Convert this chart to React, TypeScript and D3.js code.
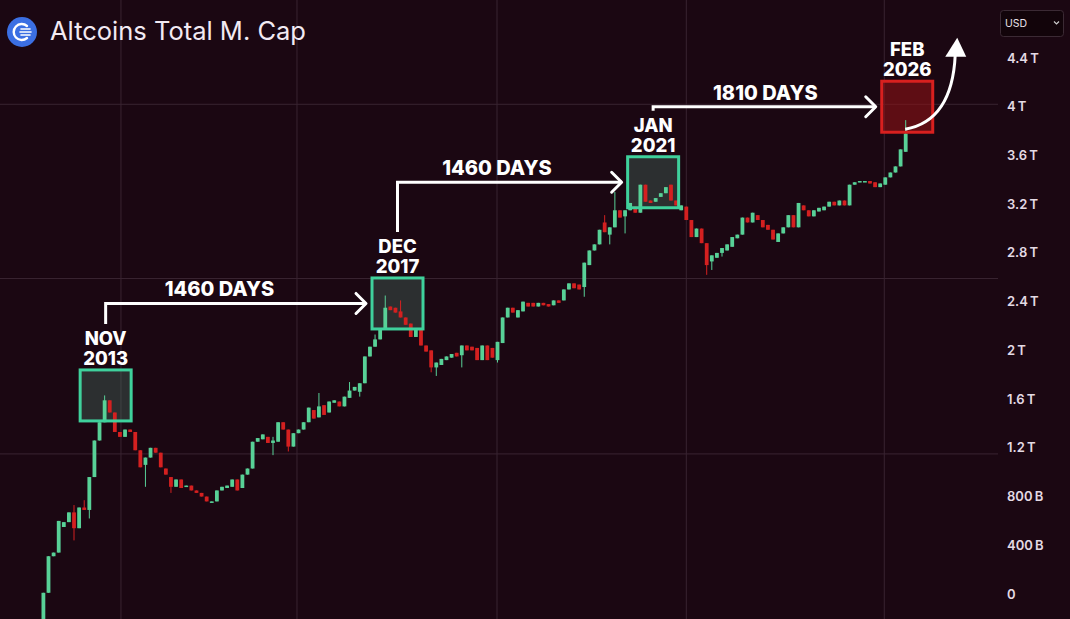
import React from 'react';
import * as d3 from 'd3';

const W = 1070;
const H = 619;

// Altcoins total market cap candles, values in trillions USD
const opens = [
  -0.25, 0.01, 0.31, 0.34, 0.55, 0.59, 0.67, 0.54, 0.71, 0.69,
  0.96, 1.26, 1.41, 1.59, 1.49, 1.33, 1.29, 1.35, 1.33, 1.18,
  1.06, 1.12, 1.20, 1.16, 1.03, 0.96, 0.88, 0.94, 0.88, 0.89,
  0.85, 0.83, 0.80, 0.75, 0.76, 0.85, 0.87, 0.88, 0.94, 0.87,
  0.98, 1.03, 1.25, 1.27, 1.29, 1.24, 1.25, 1.41, 1.35, 1.21,
  1.32, 1.35, 1.41, 1.51, 1.45, 1.55, 1.49, 1.57, 1.58, 1.54,
  1.61, 1.67, 1.66, 1.73, 1.95, 2.03, 2.09, 2.17, 2.36, 2.35,
  2.32, 2.27, 2.22, 2.11, 2.17, 2.04, 2.00, 1.86, 1.88, 1.92,
  1.94, 1.98, 1.96, 2.04, 2.03, 2.02, 1.92, 2.04, 2.02, 1.92,
  2.06, 2.27, 2.35, 2.27, 2.32, 2.39, 2.39, 2.36, 2.39, 2.38,
  2.37, 2.41, 2.41, 2.50, 2.55, 2.54, 2.52, 2.70, 2.82, 2.87,
  3.05, 2.95, 3.01, 3.15, 3.10, 3.15, 3.18, 3.13, 3.36, 3.23,
  3.22, 3.26, 3.29, 3.36, 3.23, 3.15, 3.18, 3.07, 2.93, 3.00,
  2.88, 2.73, 2.76, 2.80, 2.82, 2.85, 2.92, 2.95, 3.09, 3.05,
  3.11, 3.07, 3.03, 2.99, 2.89, 2.96, 3.01, 3.11, 3.01, 3.19,
  3.15, 3.10, 3.14, 3.15, 3.18, 3.22, 3.19, 3.23, 3.19, 3.36,
  3.38, 3.39, 3.39, 3.38, 3.34, 3.36, 3.42, 3.46, 3.51, 3.63,
];

const closes = [
  0.01, 0.31, 0.34, 0.60, 0.59, 0.67, 0.54, 0.71, 0.69, 0.96,
  1.26, 1.41, 1.59, 1.49, 1.33, 1.29, 1.35, 1.33, 1.18, 1.04,
  1.12, 1.20, 1.16, 1.04, 0.98, 0.88, 0.94, 0.87, 0.89, 0.85,
  0.83, 0.80, 0.76, 0.76, 0.85, 0.88, 0.89, 0.94, 0.85, 0.98,
  1.03, 1.25, 1.28, 1.31, 1.24, 1.26, 1.41, 1.35, 1.21, 1.32,
  1.35, 1.41, 1.53, 1.44, 1.54, 1.47, 1.58, 1.59, 1.54, 1.62,
  1.67, 1.70, 1.73, 1.95, 2.03, 2.09, 2.18, 2.35, 2.33, 2.31,
  2.27, 2.21, 2.11, 2.18, 2.04, 1.99, 1.86, 1.90, 1.93, 1.95,
  1.97, 1.95, 2.04, 2.00, 2.00, 1.92, 2.04, 1.92, 1.94, 2.07,
  2.27, 2.35, 2.31, 2.33, 2.40, 2.36, 2.36, 2.39, 2.37, 2.36,
  2.41, 2.39, 2.50, 2.55, 2.51, 2.50, 2.72, 2.82, 2.87, 2.99,
  2.97, 3.01, 3.15, 3.09, 3.15, 3.21, 3.13, 3.36, 3.22, 3.21,
  3.25, 3.29, 3.34, 3.23, 3.19, 3.19, 3.07, 2.93, 3.00, 2.88,
  2.70, 2.78, 2.80, 2.84, 2.87, 2.93, 2.95, 3.09, 3.05, 3.13,
  3.07, 3.01, 2.99, 2.91, 2.96, 3.01, 3.11, 3.01, 3.21, 3.15,
  3.10, 3.15, 3.17, 3.18, 3.22, 3.19, 3.23, 3.19, 3.36, 3.38,
  3.39, 3.39, 3.37, 3.34, 3.37, 3.42, 3.46, 3.51, 3.65, 3.78,
];

// notable wicks: [candle index, value]
const wickHighs: [number, number][] = [
  [6, 0.73], [8, 0.77], [12, 1.63], [45, 1.29], [54, 1.65], [60, 1.74],
  [65, 2.13], [67, 2.45], [70, 2.41], [110, 3.11], [112, 3.30], [169, 3.89],
];
const wickLows: [number, number][] = [
  [6, 0.44], [9, 0.62], [20, 0.88], [25, 0.83], [45, 1.14], [48, 1.17],
  [62, 1.62], [76, 1.82], [77, 1.79], [82, 1.86], [89, 1.90], [106, 2.44],
  [111, 2.87], [114, 2.96], [130, 2.62], [131, 2.66], [133, 2.77],
];

const yTickValues = [0, 0.4, 0.8, 1.2, 1.6, 2, 2.4, 2.8, 3.2, 3.6, 4, 4.4];
const yTickLabels = ['0', '400\u202FB', '800\u202FB', '1.2\u202FT', '1.6\u202FT', '2\u202FT',
  '2.4\u202FT', '2.8\u202FT', '3.2\u202FT', '3.6\u202FT', '4\u202FT', '4.4\u202FT'];

// background grid (candle index / value positions)
const gridIdx = [15.2, 49.7, 88.9, 126, 164.8];
const gridVals = [1.15, 2.59, 4.02];

// cycle tops
const eventMonths = ['NOV', 'DEC', 'JAN', 'FEB'];
const eventYears = ['2013', '2017', '2021', '2026'];
const eventIdx = [12.2, 69.4, 119.5, 169.3];
const eventVals = [1.63, 2.385, 3.38, 4.0];
const dayCounts = ['1460 DAYS', '1460 DAYS', '1810 DAYS'];
const dayLabelIdx = [34.5, 88.9, 141.5];

const BG = '#1b0712';
const UP = '#58d197';
const DOWN = '#d42020';

export default function App() {
  const n = closes.length;
  const x = d3.scaleLinear().domain([0, n - 1]).range([43.4, 905.7]);
  const y = d3.scaleLinear().domain([0, 4.4]).range([594, 58]);
  const bodyW = 3.8;
  const hiMap = new Map(wickHighs);
  const loMap = new Map(wickLows);
  const box = 51;
  const font = 'Inter, "Open Sans", sans-serif';

  const candles = closes.map((c, i) => {
    const o = opens[i];
    const up = c >= o;
    const top = y(Math.max(o, c));
    const bot = y(Math.min(o, c));
    const hi = hiMap.has(i) ? y(hiMap.get(i)!) : top;
    const lo = loMap.has(i) ? y(loMap.get(i)!) : bot;
    const col = up ? UP : DOWN;
    const cx = x(i);
    return (
      <g key={i}>
        <line x1={cx} x2={cx} y1={hi} y2={lo} stroke={col} strokeWidth={1} />
        <rect x={cx - bodyW / 2} y={top} width={bodyW} height={Math.max(1.5, bot - top)} fill={col} />
      </g>
    );
  });

  const events = eventIdx.map((ei, k) => {
    const cx = x(ei);
    const cy = y(eventVals[k]);
    const last = k === eventIdx.length - 1;
    return { cx, cy, last };
  });

  return (
    <div style={{ position: 'fixed', left: 0, top: 0, width: W, height: H, background: BG }}>
      <svg width={W} height={H} style={{ display: 'block' }}>
        <defs>
          <clipPath id="plot">
            <rect x={0} y={0} width={998} height={H} />
          </clipPath>
        </defs>
        <rect width={W} height={H} fill={BG} />
        {gridIdx.map((g, i) => (
          <line key={'gx' + i} x1={x(g)} x2={x(g)} y1={0} y2={H} stroke="#392431" strokeWidth={1} />
        ))}
        {gridVals.map((g, i) => (
          <line key={'gy' + i} x1={0} x2={998} y1={y(g)} y2={y(g)} stroke="#392431" strokeWidth={1} />
        ))}

        {/* title */}
        <circle cx={22} cy={32} r={15} fill="#3b6fe3" />
        <path d="M27,26 A8,8 0 1 0 27,38" fill="none" stroke="#fff" strokeWidth={2.4} strokeLinecap="round" />
        <line x1={21} x2={30} y1={29} y2={29} stroke="#fff" strokeWidth={1.6} strokeLinecap="round" />
        <line x1={20} x2={31} y1={32} y2={32} stroke="#fff" strokeWidth={1.6} strokeLinecap="round" />
        <line x1={21} x2={30} y1={35} y2={35} stroke="#fff" strokeWidth={1.6} strokeLinecap="round" />
        <text x={50} y={40} fontFamily={font} fontSize={25.5} fill="#f2eaf2">Altcoins Total M. Cap</text>

        {/* USD selector */}
        <rect x={1000.5} y={10.5} width={63} height={26} rx={3} fill="#12040a" stroke="#3b2a34" />
        <text x={1005} y={27} fontFamily={font} fontSize={10.5} fill="#e8e0e8">USD</text>
        <path d="M1054,21.5 l2.5,2.5 l2.5,-2.5" fill="none" stroke="#ccc" strokeWidth={1.2} />

        {/* y axis labels */}
        {yTickValues.map((v, i) => (
          <text key={'yt' + i} x={1007} y={y(v)} dy="0.35em" fontFamily={font} fontSize={13} fontWeight={600} fill="#e4dae4">
            {yTickLabels[i]}
          </text>
        ))}

        {/* event boxes (behind candles) */}
        {events.map((e, k) => (
          <rect key={'bx' + k} x={e.cx - box / 2} y={e.cy - box / 2} width={box} height={box}
            fill={e.last ? 'rgba(150,18,22,0.55)' : 'rgba(78,130,110,0.33)'} />
        ))}

        <g clipPath="url(#plot)">{candles}</g>

        {events.map((e, k) => (
          <g key={'ev' + k}>
            <rect x={e.cx - box / 2} y={e.cy - box / 2} width={box} height={box}
              fill="none" stroke={e.last ? '#d8201f' : '#3fd19c'} strokeWidth={3} />
            <text x={e.cx} y={e.cy - box / 2 - 25} textAnchor="middle" fontFamily={font} fontSize={18.5} fontWeight={800} fill="#fff">
              {eventMonths[k]}
            </text>
            <text x={e.cx} y={e.cy - box / 2 - 5} textAnchor="middle" fontFamily={font} fontSize={18.5} fontWeight={800} fill="#fff">
              {eventYears[k]}
            </text>
          </g>
        ))}

        {/* day count arrows */}
        {dayCounts.map((label, k) => {
          const a = events[k];
          const b = events[k + 1];
          const yl = b.cy;
          const x0 = a.cx;
          const x1 = b.cx - box / 2 - 6;
          const ytop = a.cy - box / 2 - 46;
          return (
            <g key={'ar' + k}>
              <path d={`M${x0},${ytop} V${yl} H${x1}`} fill="none" stroke="#fff" strokeWidth={3} />
              <path d={`M${x1 - 10},${yl - 10} L${x1},${yl} L${x1 - 10},${yl + 10}`} fill="none" stroke="#fff" strokeWidth={3} strokeLinecap="round" strokeLinejoin="round" />
              <text x={x(dayLabelIdx[k])} y={yl - 7} textAnchor="middle" fontFamily={font} fontSize={20} fontWeight={800} fill="#fff">
                {label}
              </text>
            </g>
          );
        })}

        {/* curved arrow */}
        {(() => {
          const e = events[events.length - 1];
          const sx = e.cx - 2;
          const sy = e.cy + box / 2 - 3;
          return (
            <g>
              <path d={`M${sx},${sy} Q${e.cx + 45},${e.cy + 14} ${e.cx + 48},${e.cy - 52}`} fill="none" stroke="#fff" strokeWidth={3} />
              <path d={`M${e.cx + 50},${e.cy - 69} L${e.cx + 59},${e.cy - 50} L${e.cx + 38},${e.cy - 50} Z`} fill="#fff" />
            </g>
          );
        })()}
      </svg>
    </div>
  );
}
